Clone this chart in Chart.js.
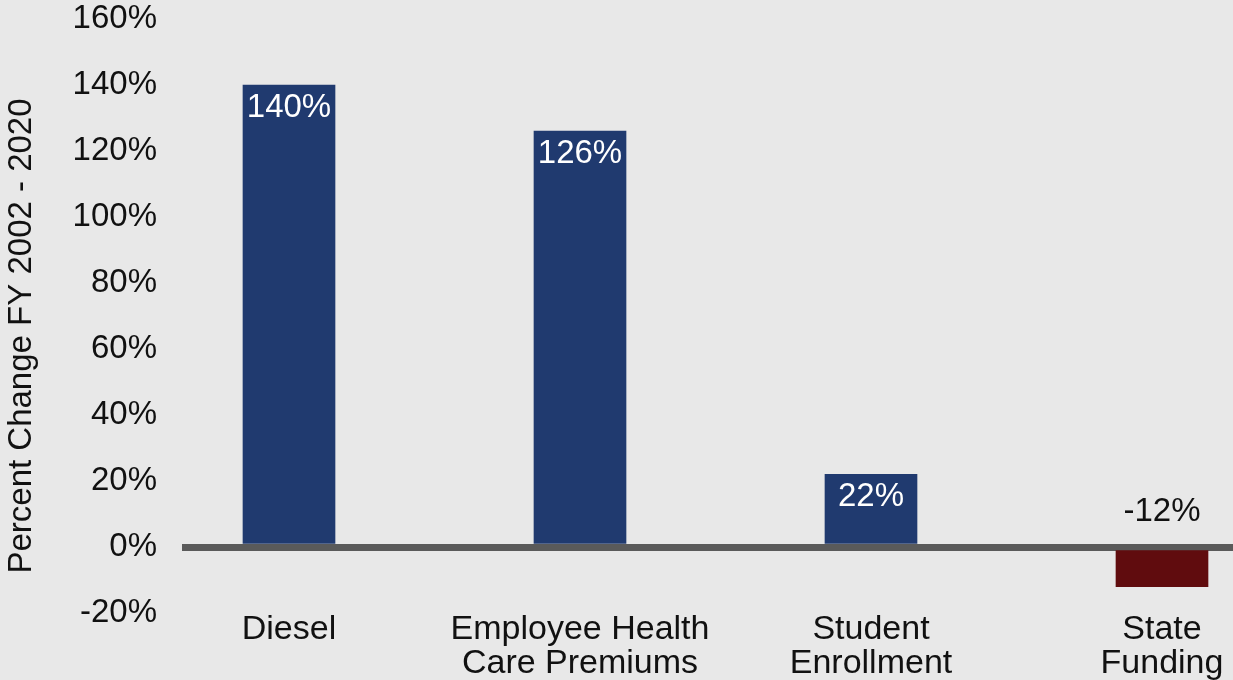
<!DOCTYPE html>
<html>
<head>
<meta charset="utf-8">
<script src="https://cdn.jsdelivr.net/npm/chart.js@4/dist/chart.umd.min.js"></script>
<style>
body{margin:0;background:#e8e8e8;overflow:hidden}
canvas{display:block}
</style>
</head>
<body>
<canvas id="costChart" width="1233" height="680"></canvas>
<script>

const categories=["Diesel",["Employee Health","Care Premiums"],["Student","Enrollment"],["State","Funding"]]
const values=[140,126,22,-12]
const yTicks=[-20,0,20,40,60,80,100,120,140,160]
const yTitle="Percent Change FY 2002 - 2020"

const font="'Liberation Sans', Arial, sans-serif"

// value labels on the bars + the y axis title
const barLabels={
id:"barLabels",
afterDraw(chart){
const ctx=chart.ctx
const meta=chart.getDatasetMeta(0)
const zero=chart.scales.y.getPixelForValue(0)
ctx.save()
ctx.font="33px "+font
ctx.textAlign="center"
ctx.textBaseline="middle"
meta.data.forEach((bar,i)=>{
const v=values[i]
if(v>=0){
ctx.fillStyle="#ffffff"
ctx.fillText(v+"%",bar.x,bar.y+23)
}else{
ctx.fillStyle="#111111"
ctx.fillText(v+"%",bar.x,zero-35)
}
})
ctx.translate(22,336)
ctx.rotate(-Math.PI/2)
ctx.fillStyle="#111111"
ctx.fillText(yTitle,0,0)
ctx.restore()
}
}

new Chart(
document.getElementById("costChart"),
{
type:"bar",
data:{
datasets:[{
data:values.map((v,i)=>({x:i,y:v})),
backgroundColor:values.map(v=>v<0?"#600c0e":"#203a6f"),
barThickness:92
}]
},
options:{
responsive:false,
animation:false,
layout:{padding:0},
plugins:{legend:{display:false},tooltip:{enabled:false}},
scales:{
x:{
type:"linear",
offset:false,
min:-0.3677,
max:3.244,
grid:{display:false,drawTicks:false},
border:{display:false},
afterFit(scale){scale.height=67},
afterBuildTicks(scale){scale.ticks=categories.map((c,i)=>({value:i}))},
ticks:{
autoSkip:false,
maxRotation:0,
padding:0,
color:"#111111",
font:{family:font,size:34,lineHeight:1},
callback:v=>categories[v]!==undefined?categories[v]:""
}
},
y:{
min:-20,
max:160,
z:1,
border:{display:false},
afterFit(scale){
scale.width=182
scale.paddingTop=19
scale.paddingBottom=0
},
afterBuildTicks(scale){scale.ticks=yTicks.map(v=>({value:v}))},
grid:{
drawTicks:false,
color:c=>c.tick&&c.tick.value===0?"#5a5a5a":"rgba(0,0,0,0)",
lineWidth:c=>c.tick&&c.tick.value===0?7:0
},
ticks:{
padding:25,
color:"#111111",
font:{family:font,size:33},
callback:v=>v+"%"
}
}
}
},
plugins:[barLabels]
})

</script>
</body>
</html>
